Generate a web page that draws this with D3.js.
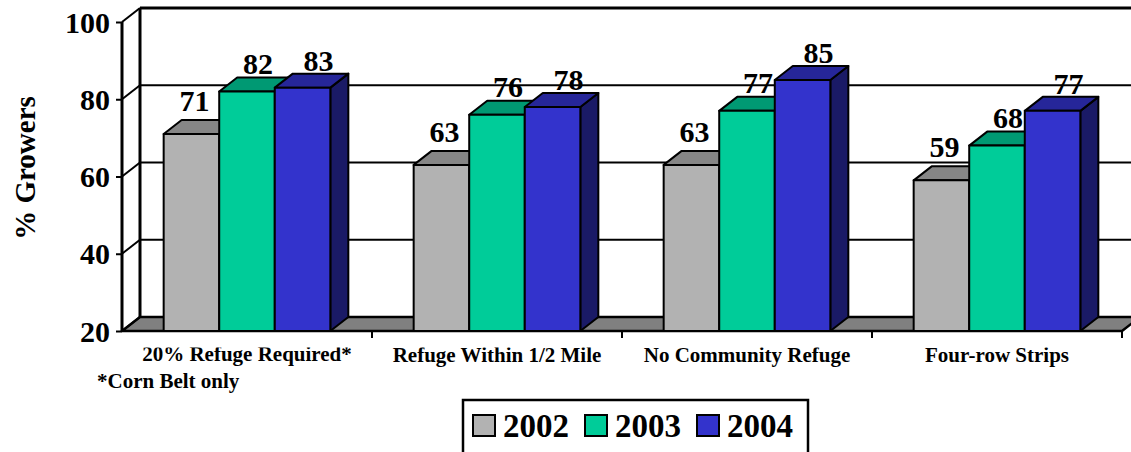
<!DOCTYPE html>
<html>
<head>
<meta charset="utf-8">
<script src="https://cdn.jsdelivr.net/npm/d3@7"></script>
</head>
<body style="margin:0;padding:0;background:#fff">
<svg id="chart" width="1131" height="452" style="display:block"></svg>
<script>
// Share of growers following each refuge practice, by survey year
const categories = ["20% Refuge Required*", "Refuge Within 1/2 Mile", "No Community Refuge", "Four-row Strips"];
const years = ["2002", "2003", "2004"];
const values2002 = [71, 63, 63, 59];
const values2003 = [82, 76, 77, 68];
const values2004 = [83, 78, 85, 77];
const yTicks = [20, 40, 60, 80, 100];
const footnote = "*Corn Belt only";
const axisTitle = "% Growers";

const series = [values2002, values2003, values2004];
const frontColors = ["#b2b2b2", "#00cc99", "#3333cc"];
const FONT = "Liberation Serif";

// 3D projection offset of the depth axis
const DX = 18, DY = -14;

const svg = d3.select("#chart");
const W = 1131;

const x0 = d3.scaleBand().domain(categories).range([122, 1122]);
// three bars fill 3 of 4.5 slots per category (gap width 150%)
const barW = x0.bandwidth() / 4.5;
const groupOffset = barW * 0.75;
const xBar = (ci, si) => x0(categories[ci]) + groupOffset + si * barW;

const y = d3.scaleLinear().domain([20, 100]).range([331, 22]);
const yBase = y(20);

function shade(c, k) {
  const r = d3.rgb(c);
  return d3.rgb(r.r * k, r.g * k, r.b * k).formatHex();
}

const line = d3.line();
const xL = x0.range()[0], xR = x0.range()[1];

// back wall
svg.append("rect")
  .attr("x", xL + DX).attr("y", y(100) + DY)
  .attr("width", xR - xL).attr("height", yBase - y(100))
  .attr("fill", "#fff");

// gridlines on the back wall
svg.append("g").selectAll("line").data(yTicks.slice(1, -1)).join("line")
  .attr("x1", xL + DX).attr("x2", xR + DX)
  .attr("y1", d => y(d) + DY).attr("y2", d => y(d) + DY)
  .attr("stroke", "#000").attr("stroke-width", 2);

// top edge of back wall
svg.append("line")
  .attr("x1", xL + DX).attr("x2", xR + DX)
  .attr("y1", y(100) + DY).attr("y2", y(100) + DY)
  .attr("stroke", "#000").attr("stroke-width", 3);

// floor
svg.append("path")
  .attr("d", line([[xL, yBase], [xR, yBase], [xR + DX, yBase + DY], [xL + DX, yBase + DY]]) + "Z")
  .attr("fill", "#808080").attr("stroke", "#000").attr("stroke-width", 2.5).attr("stroke-linejoin", "round");

// left side wall: back axis, and diagonals joining it to the front axis
svg.append("line")
  .attr("x1", xL + DX).attr("x2", xL + DX)
  .attr("y1", y(100) + DY).attr("y2", yBase + DY)
  .attr("stroke", "#000").attr("stroke-width", 3);
svg.append("g").selectAll("line").data(yTicks).join("line")
  .attr("x1", xL).attr("y1", d => y(d))
  .attr("x2", xL + DX).attr("y2", d => y(d) + DY)
  .attr("stroke", "#000").attr("stroke-width", 2);

// value axis (front)
const yAxis = d3.axisLeft(y).tickValues(yTicks).tickSize(6).tickPadding(6).tickFormat(d3.format("d"));
const gy = svg.append("g").attr("transform", `translate(${xL},0)`).call(yAxis);
gy.select(".domain").attr("stroke", "#000").attr("stroke-width", 3).attr("d", `M0,${y(100)}V${yBase}`);
gy.selectAll(".tick line").attr("stroke", "#000").attr("stroke-width", 2);
gy.selectAll(".tick text").attr("fill", "#000").attr("font-size", 30).attr("dy", "0.34em");

// category axis ticks along the front edge of the floor
const catTicks = categories.slice(1).map(c => x0(c)).concat([xR]);
svg.append("g").selectAll("line").data(catTicks).join("line")
  .attr("x1", d => d).attr("x2", d => d)
  .attr("y1", yBase).attr("y2", yBase + 7)
  .attr("stroke", "#000").attr("stroke-width", 2);

// bars: side face, top face, front face
const bars = svg.append("g");
categories.forEach((cat, ci) => {
  series.forEach((vals, si) => {
    const xa = xBar(ci, si), xb = xa + barW;
    const yt = y(vals[ci]);
    const col = frontColors[si];
    const g = bars.append("g")
      .attr("stroke", "#000").attr("stroke-width", 2).attr("stroke-linejoin", "round");
    g.append("path")
      .attr("d", line([[xb, yt], [xb + DX, yt + DY], [xb + DX, yBase + DY], [xb, yBase]]) + "Z")
      .attr("fill", shade(col, 0.5));
    g.append("path")
      .attr("d", line([[xa, yt], [xa + DX, yt + DY], [xb + DX, yt + DY], [xb, yt]]) + "Z")
      .attr("fill", shade(col, 0.75));
    g.append("rect")
      .attr("x", xa).attr("y", yt).attr("width", barW).attr("height", yBase - yt)
      .attr("fill", col);
  });
});

// value labels above each bar
const labelDX = [3, 11, 16];
const labelDY = [-9, -4, -3];
const labels = svg.append("g");
categories.forEach((cat, ci) => {
  series.forEach((vals, si) => {
    labels.append("text")
      .attr("x", xBar(ci, si) + barW / 2 + labelDX[si])
      .attr("y", y(vals[ci]) + DY + labelDY[si])
      .attr("text-anchor", "middle")
      .attr("font-size", 30)
      .text(vals[ci]);
  });
});

// category labels
svg.append("clipPath").attr("id", "catClip")
  .append("rect").attr("x", 0).attr("y", 347.5).attr("width", W).attr("height", 40);
svg.append("g").attr("clip-path", "url(#catClip)")
  .selectAll("text").data(categories).join("text")
  .attr("x", d => x0(d) + x0.bandwidth() / 2)
  .attr("y", (d, i) => i === 0 ? 360.5 : 362)
  .attr("text-anchor", "middle")
  .attr("font-size", 21)
  .text(d => d);

// footnote
svg.append("text").attr("x", 97).attr("y", 388).attr("font-size", 21).text(footnote);

// axis title
svg.append("text")
  .attr("transform", "translate(35,168) rotate(-90)")
  .attr("text-anchor", "middle")
  .attr("font-size", 29)
  .text(axisTitle);

// legend
const lg = svg.append("g");
lg.append("rect").attr("x", 463).attr("y", 400).attr("width", 345).attr("height", 70)
  .attr("fill", "#fff").attr("stroke", "#000").attr("stroke-width", 2.5);
years.forEach((yr, i) => {
  const lx = 473 + i * 112;
  lg.append("rect").attr("x", lx).attr("y", 415).attr("width", 22).attr("height", 21)
    .attr("fill", frontColors[i]).attr("stroke", "#000").attr("stroke-width", 2);
  lg.append("text").attr("x", lx + 30).attr("y", 437).attr("font-size", 33).text(yr);
});

// every text in the chart is set in bold serif
svg.selectAll("text")
  .attr("font-family", FONT)
  .attr("font-weight", "bold")
  .style("font-family", FONT)
  .style("font-weight", "bold");
</script>
</body>
</html>
